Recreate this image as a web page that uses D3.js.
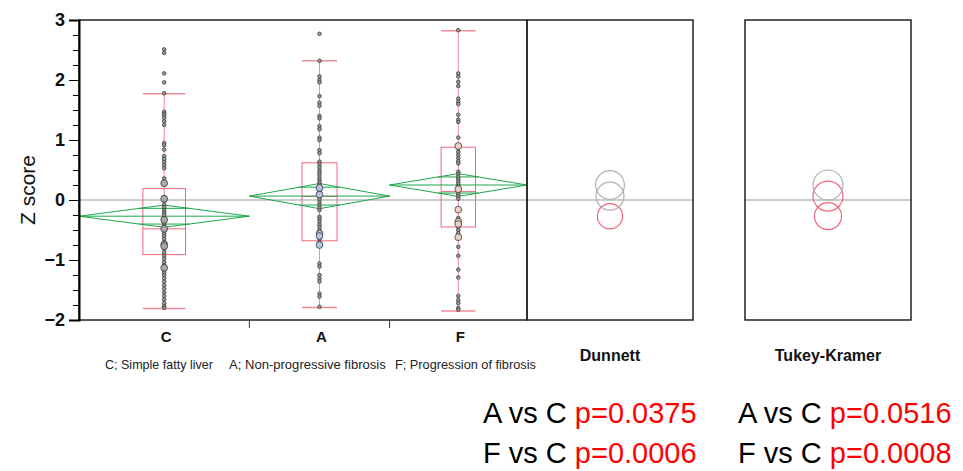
<!DOCTYPE html>
<html>
<head>
<meta charset="utf-8">
<script src="https://cdn.jsdelivr.net/npm/d3@7"></script>
<style>
    body { margin: 0; background: #fff; }
    svg { display: block; font-family: "Liberation Sans", Arial, sans-serif; }
</style>
</head>
<body>
<div id="chart"></div>
<script>
// groups and sample sizes (widths of the means diamonds)
const groups = ['C', 'A', 'F'];
const groupN = [62, 51, 50];
const groupLabels = ['C; Simple fatty liver', 'A; Non-progressive fibrosis', 'F; Progression of fibrosis'];

// individual z scores
const pointsC = [2.51, 2.45, 2.11, 1.96, 1.78, 1.47, 1.44, 1.41, 1.37, 1.31, 1.25, 0.95, 0.91, 0.84, 0.73, 0.68,
    0.63, 0.58, 0.53, 0.36, 0.31, 0.05, -0.02, -0.08, -0.12, -0.17, -0.21, -0.25, -0.3, -0.36, -0.4, -0.44,
    -0.52, -0.56, -0.6, -0.65, -0.7, -0.82, -0.88, -0.93, -0.98, -1.04, -1.09, -1.17, -1.21, -1.25, -1.3,
    -1.36, -1.42, -1.48, -1.54, -1.6, -1.66, -1.72, -1.77, -1.8];
const pointsA = [2.77, 2.32, 2.06, 2.0, 1.96, 1.73, 1.62, 1.57, 1.4, 1.36, 1.23, 1.18, 1.04, 1.0, 0.83, 0.78,
    0.64, 0.6, 0.55, 0.5, 0.46, 0.42, 0.37, 0.33, 0.29, 0.25, 0.14, 0.05, 0.01, -0.04, -0.09, -0.13, -0.17,
    -0.28, -0.32, -0.36, -0.41, -0.45, -0.5, -0.65, -0.7, -1.06, -1.11, -1.25, -1.31, -1.36, -1.56, -1.61, -1.78];
const pointsF = [2.83, 2.11, 2.06, 1.97, 1.9, 1.69, 1.64, 1.6, 1.42, 1.34, 1.3, 1.04, 0.86, 0.8, 0.75, 0.7,
    0.65, 0.61, 0.47, 0.43, 0.39, 0.35, 0.31, 0.27, 0.23, 0.14, 0.1, 0.06, 0.02, -0.3, -0.45, -0.5, -0.55,
    -0.78, -0.93, -1.16, -1.29, -1.6, -1.67, -1.72, -1.8, -1.83];

// overlapping rows, drawn as larger markers
const markedC = [0.28, 0.02, -0.33, -0.48, -0.74, -0.77, -1.13];
const markedA = [0.2, 0.09, -0.56, -0.6, -0.75];
const markedF = [0.9, 0.18, -0.16, -0.36, -0.4, -0.62];

// box plot stats: [low whisker, q1, median, q3, high whisker]
const boxC = [-1.81, -0.91, -0.48, 0.19, 1.77];
const boxA = [-1.79, -0.68, 0.06, 0.62, 2.32];
const boxF = [-1.85, -0.45, 0.14, 0.88, 2.82];

// means and 95% CI half widths
const means = [-0.27, 0.065, 0.25];
const ciHalf = [0.185, 0.21, 0.19];

// comparison circle radii (z units) and which circles are red
const dunnettRadius = [0.21, 0.233, 0.24];
const dunnettRed = [true, false, false];
const tukeyRadius = [0.225, 0.25, 0.25];
const tukeyRed = [true, true, false];

const majorTicks = [-2, -1, 0, 1, 2, 3];
const minorTicks = d3.range(-2, 3.001, 0.25);

const pTests = [
    {label: 'A vs C ', dunnett: 'p=0.0375', tukey: 'p=0.0516'},
    {label: 'F vs C ', dunnett: 'p=0.0006', tukey: 'p=0.0008'}
];

const points = [pointsC, pointsA, pointsF];
const marked = [markedC, markedA, markedF];
const boxes = [boxC, boxA, boxF];
const markFill = ['#a9a9a9', '#b7c3e6', '#ecd2bf'];

// layout
const W = 963, H = 471;
const plot = {left: 79, right: 527, top: 20, bottom: 320};
const dunnett = {left: 527, right: 693};
const tukey = {left: 745, right: 911};

const red = '#f2667c', green = '#1fa64a';

const svg = d3.select('#chart').append('svg')
    .attr('width', W)
    .attr('height', H);

// scales
const y = d3.scaleLinear().domain([-2, 3]).range([plot.bottom, plot.top]);
const cum = [0];
groupN.forEach((n, i) => cum.push(cum[i] + n));
const x = d3.scaleLinear().domain([0, cum[cum.length - 1]]).range([plot.left, plot.right]);
const bandStart = i => x(cum[i]);
const bandEnd = i => x(cum[i + 1]);
const center = i => (bandStart(i) + bandEnd(i)) / 2;

// zero reference lines
[[plot.left, dunnett.right], [tukey.left, tukey.right]].forEach(r => {
    svg.append('line')
        .attr('x1', r[0]).attr('x2', r[1])
        .attr('y1', y(0)).attr('y2', y(0))
        .attr('stroke', '#9a9a9a').attr('stroke-width', 1);
});

// box plots
groups.forEach((g, i) => {
    let b = boxes[i];
    let bw = (bandEnd(i) - bandStart(i)) * 0.25;
    let cx = center(i);
    let grp = svg.append('g').attr('class', 'box').attr('fill', 'none');

    grp.append('line')
        .attr('x1', cx).attr('x2', cx)
        .attr('y1', y(b[0])).attr('y2', y(b[4]))
        .attr('stroke', '#f58a9a').attr('stroke-width', 1);
    [b[0], b[4]].forEach(v => {
        grp.append('line')
            .attr('x1', cx - bw / 2).attr('x2', cx + bw / 2)
            .attr('y1', y(v)).attr('y2', y(v))
            .attr('stroke', '#f58a9a').attr('stroke-width', 1.5);
    });
    grp.append('rect')
        .attr('x', cx - bw / 2).attr('width', bw)
        .attr('y', y(b[3])).attr('height', y(b[1]) - y(b[3]))
        .attr('stroke', red).attr('stroke-width', 1);
    grp.append('line')
        .attr('x1', cx - bw / 2).attr('x2', cx + bw / 2)
        .attr('y1', y(b[2])).attr('y2', y(b[2]))
        .attr('stroke', red).attr('stroke-width', 1);
});

// means diamonds with overlap marks
groups.forEach((g, i) => {
    let x0 = bandStart(i), x1 = bandEnd(i), cx = center(i);
    let m = means[i], h = ciHalf[i];
    let grp = svg.append('g').attr('class', 'diamond')
        .attr('stroke', green).attr('stroke-width', 1).attr('fill', 'none');

    grp.append('path')
        .attr('d', d3.line()([[x0, y(m)], [cx, y(m + h)], [x1, y(m)], [cx, y(m - h)], [x0, y(m)]]));
    grp.append('line')
        .attr('x1', x0).attr('x2', x1)
        .attr('y1', y(m)).attr('y2', y(m));

    let half = (x1 - x0) / 2 * (1 - Math.SQRT1_2);
    [m + h * Math.SQRT1_2, m - h * Math.SQRT1_2].forEach(v => {
        grp.append('line')
            .attr('x1', cx - half).attr('x2', cx + half)
            .attr('y1', y(v)).attr('y2', y(v));
    });
});

// data points
groups.forEach((g, i) => {
    svg.append('g').selectAll('circle')
        .data(points[i])
        .enter().append('circle')
        .attr('cx', center(i))
        .attr('cy', d => y(d))
        .attr('r', 1.8)
        .attr('fill', '#9b9b9b')
        .attr('stroke', '#3a3a3a')
        .attr('stroke-width', 0.8);

    svg.append('g').selectAll('circle')
        .data(marked[i])
        .enter().append('circle')
        .attr('cx', center(i))
        .attr('cy', d => y(d))
        .attr('r', 3.4)
        .attr('fill', markFill[i])
        .attr('stroke', '#3a3a3a')
        .attr('stroke-width', 0.8);
});

// comparison circles
function compCircles(panel, radius, isRed) {
    let cx = (panel.left + panel.right) / 2;
    svg.append('g').selectAll('circle')
        .data(groups.map((g, i) => ({m: means[i], r: radius[i], red: isRed[i]})))
        .enter().append('circle')
        .attr('cx', cx)
        .attr('cy', d => y(d.m))
        .attr('r', d => y(0) - y(d.r))
        .attr('fill', 'none')
        .attr('stroke', d => d.red ? red : '#b0b0b0')
        .attr('stroke-width', 1.2);
}
compCircles(dunnett, dunnettRadius, dunnettRed);
compCircles(tukey, tukeyRadius, tukeyRed);

// panel frames
[[plot.left, plot.right], [dunnett.left, dunnett.right], [tukey.left, tukey.right]].forEach(r => {
    svg.append('rect')
        .attr('x', r[0]).attr('y', plot.top)
        .attr('width', r[1] - r[0]).attr('height', plot.bottom - plot.top)
        .attr('fill', 'none')
        .attr('stroke', '#222').attr('stroke-width', 1.5);
});

// y axis: minor then major ticks
svg.append('g')
    .attr('transform', `translate(${plot.left},0)`)
    .call(d3.axisLeft(y).tickValues(minorTicks).tickSize(6).tickFormat(''))
    .call(g => g.select('.domain').remove());

let yAxis = svg.append('g')
    .attr('transform', `translate(${plot.left},0)`)
    .call(d3.axisLeft(y).tickValues(majorTicks).tickSize(10).tickPadding(4).tickFormat(d3.format('d')));
yAxis.select('.domain').attr('stroke-width', 2);
yAxis.selectAll('text')
    .attr('font-size', 18)
    .attr('font-weight', 'bold')
    .attr('fill', '#111')
    .attr('font-family', '"Liberation Sans", Arial, sans-serif');

svg.append('text')
    .attr('transform', `translate(35,190) rotate(-90)`)
    .attr('text-anchor', 'middle')
    .attr('font-size', 21)
    .attr('fill', '#111')
    .text('Z score');

// x axis: group separators and labels
svg.append('g').selectAll('line')
    .data(groups.slice(1))
    .enter().append('line')
    .attr('x1', (d, i) => bandStart(i + 1)).attr('x2', (d, i) => bandStart(i + 1))
    .attr('y1', plot.bottom).attr('y2', plot.bottom + 8)
    .attr('stroke', '#333');

svg.append('g').selectAll('text')
    .data(groups)
    .enter().append('text')
    .attr('x', (d, i) => center(i) + 2)
    .attr('y', plot.bottom + 22)
    .attr('text-anchor', 'middle')
    .attr('font-size', 15)
    .attr('font-weight', 'bold')
    .attr('fill', '#111')
    .text(d => d);

// group descriptions, fitted to the widths seen in the original
const labelStart = [105, 229, 395];
const labelWidth = [108, 157, 141];
svg.append('g').selectAll('text')
    .data(groupLabels)
    .enter().append('text')
    .attr('font-size', 13)
    .attr('fill', '#222')
    .text(d => d)
    .attr('transform', function(d, i) {
        let sx = labelWidth[i] / this.getComputedTextLength();
        return `translate(${labelStart[i]},369) scale(${sx},1)`;
    });

// panel titles
[['Dunnett', dunnett], ['Tukey-Kramer', tukey]].forEach(t => {
    svg.append('text')
        .attr('x', (t[1].left + t[1].right) / 2)
        .attr('y', 361)
        .attr('text-anchor', 'middle')
        .attr('font-size', 16)
        .attr('font-weight', 'bold')
        .attr('fill', '#111')
        .text(t[0]);
});

// p values
pTests.forEach((p, i) => {
    [[483, p.dunnett], [738, p.tukey]].forEach(c => {
        let t = svg.append('text')
            .attr('x', c[0])
            .attr('y', 423 + i * 39.5)
            .attr('font-size', 29)
            .attr('fill', '#000');
        t.append('tspan').text(p.label);
        t.append('tspan').attr('fill', '#ff0000').text(c[1]);
    });
});
</script>
</body>
</html>
